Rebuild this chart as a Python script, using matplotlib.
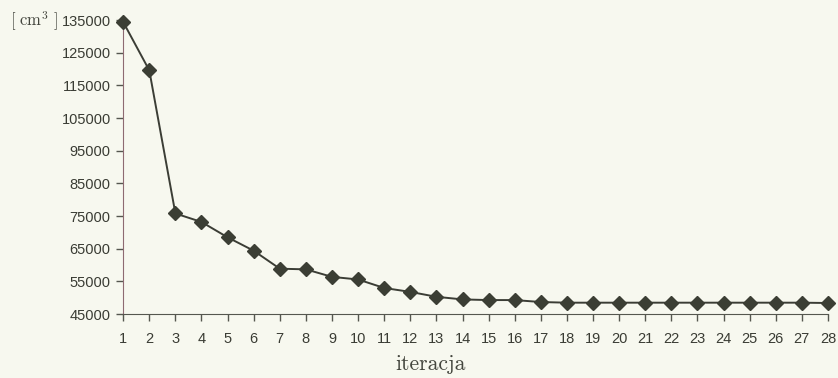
import matplotlib

matplotlib.use("Agg")

import matplotlib.pyplot as plt
from matplotlib.ticker import FixedLocator

# Data
iterations = list(range(1, 29))
volume = [134400, 119600, 75800, 73200, 68500, 64400, 58900, 58700, 56400, 55600,
          53000, 51800, 50300, 49500, 49300, 49300, 48700, 48500, 48500, 48500,
          48500, 48500, 48500, 48500, 48500, 48500, 48500, 48400]
y_ticks = list(range(45000, 135001, 10000))

plt.rcParams["mathtext.fontset"] = "cm"

bg = "#f7f8ef"
fig = plt.figure(figsize=(8.38, 3.78), dpi=100, facecolor=bg)
ax = fig.add_axes([0.147, 0.169, 0.841, 0.778])
ax.set_facecolor(bg)

ax.plot(iterations, volume, color="#3b3d35", lw=1.4, marker="D", markersize=7,
        markerfacecolor="#3b3e34", markeredgecolor="#3b3e34", clip_on=False,
        zorder=3)

ax.set_xlim(1, 28)
ax.set_ylim(45000, 135000)
ax.xaxis.set_major_locator(FixedLocator(iterations))
ax.yaxis.set_major_locator(FixedLocator(y_ticks))

for side in ("top", "right"):
    ax.spines[side].set_visible(False)
ax.spines["left"].set_color("#8e6a72")
ax.spines["bottom"].set_color("#55574f")
ax.tick_params(axis="both", direction="out", length=5, width=1, color="#55574f",
               labelcolor="#3a3c34", labelsize=10.5)
ax.tick_params(axis="x", pad=8)
ax.tick_params(axis="y", pad=4)
for lbl in ax.get_xticklabels() + ax.get_yticklabels():
    lbl.set_family("Liberation Sans")

fig.text(0.012, 0.945, r"$[\ \mathrm{cm}^3\ ]$", fontsize=12, color="#44463e",
         va="center", ha="left")
fig.text(0.514, 0.022, "iteracja", fontsize=15.5, color="#44463e", family="cmr10",
         ha="center", va="baseline")

fig.savefig("out.png", dpi=100, facecolor=bg)
